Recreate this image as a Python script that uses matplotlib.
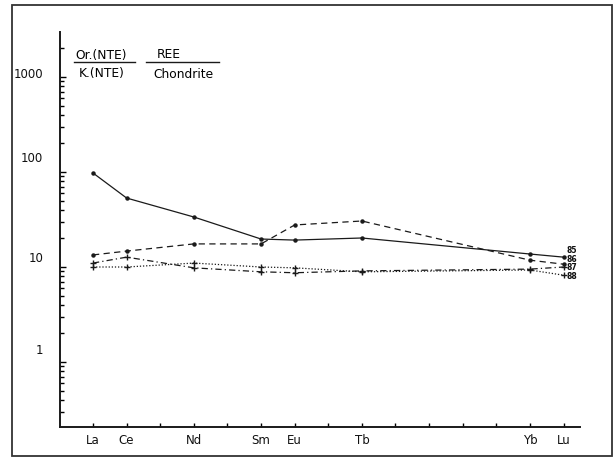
import matplotlib
matplotlib.use("Agg")
import matplotlib.pyplot as plt
import matplotlib.transforms as mtransforms
from matplotlib.patches import Rectangle
from matplotlib.ticker import LogLocator, NullFormatter, FixedLocator, FixedFormatter

FONT = ['Liberation Sans Narrow', 'DejaVu Sans']

# REE positions (full lanthanide series), labels only where analysed
elements = ['La', 'Ce', 'Pr', 'Nd', 'Pm', 'Sm', 'Eu', 'Gd', 'Tb', 'Dy', 'Ho', 'Er', 'Tm', 'Yb', 'Lu']
tick_labels = ['La', 'Ce', '', 'Nd', '', 'Sm', 'Eu', '', 'Tb', '', '', '', '', 'Yb', 'Lu']
analysed = ['La', 'Ce', 'Nd', 'Sm', 'Eu', 'Tb', 'Yb', 'Lu']

s85 = [97.6, 53.2, 33.6, 19.7, 19.2, 20.2, 13.7, 12.7]
s86 = [13.4, 14.7, 17.5, 17.5, 27.7, 30.5, 11.8, 10.7]
s87 = [11.0, 12.7, 9.8, 8.9, 8.7, 9.1, 9.5, 10.0]
s88 = [10.0, 10.0, 11.0, 10.0, 9.8, 8.9, 9.3, 8.2]
series_names = ['85', '86', '87', '88']

yticks = [1, 10, 100, 1000]
ytick_labels = ['1', '10', '100', '1000']

fig = plt.figure(figsize=(6.16, 4.61), dpi=100)
ax = fig.add_axes([60/616, 1-427/461, 520/616, 395/461])

xs = [elements.index(e) for e in analysed]
styles = [
    dict(linestyle='-', marker='o', markersize=2.2),
    dict(linestyle=(0, (5, 3.5)), marker='o', markersize=2.2),
    dict(linestyle=(0, (5, 2.5, 1, 2.5)), marker='+', markersize=4),
    dict(linestyle=(0, (1, 1.5)), marker='+', markersize=4),
]
offsets = [(3, 7), (3, 5.2), (3, -1), (3, -1.8)]
for vals, name, st, off in zip([s85, s86, s87, s88], series_names, styles, offsets):
    ax.plot(xs, vals, color='#1a1a1a', linewidth=0.9, **st)
    ax.annotate(name, (xs[-1], vals[-1]), xytext=off, textcoords='offset pixels',
                ha='left', va='center', fontsize=5.5, fontweight='bold',
                family=FONT, color='#111111')

ax.set_yscale('log')
ax.set_xlim(-0.982, 14.49)
ax.set_ylim(10**(-65/95), 10**(330/95))

ax.xaxis.set_major_locator(FixedLocator(list(range(len(elements)))))
ax.xaxis.set_major_formatter(FixedFormatter(tick_labels))
ax.yaxis.set_major_locator(FixedLocator(yticks))
ax.yaxis.set_major_formatter(FixedFormatter(ytick_labels))
ax.yaxis.set_minor_locator(LogLocator(base=10, subs=range(2, 10)))
ax.yaxis.set_minor_formatter(NullFormatter())

ax.tick_params(axis='x', direction='in', length=3, width=1, pad=5, labelsize=8.5)
ax.tick_params(axis='y', which='major', direction='in', length=4, width=1, pad=12, labelsize=8.5)
ax.tick_params(axis='y', which='minor', direction='in', length=3, width=1)
for lab in ax.get_xticklabels() + ax.get_yticklabels():
    lab.set_family(FONT)
    lab.set_color('#111111')
# tick labels in the original sit above their tick marks by varying amounts (px)
label_lift_px = [13, 10, 15, 4]
for lab, lift in zip(ax.get_yticklabels(), label_lift_px):
    shift = mtransforms.ScaledTranslation(0, lift / 100, fig.dpi_scale_trans)
    lab.set_transform(lab.get_transform() + shift)

for s in ['top', 'right']:
    ax.spines[s].set_visible(False)
for s in ['left', 'bottom']:
    ax.spines[s].set_linewidth(1.4)
    ax.spines[s].set_color('#1a1a1a')

# header: fraction-like titles
def fx(px):
    return px / 616
def fy(py):
    return 1 - py / 461

fig.text(fx(101), fy(55), 'Or.(NTE)', ha='center', va='center', fontsize=8.8, family=FONT)
fig.text(fx(102), fy(74), 'K.(NTE)', ha='center', va='center', fontsize=8.8, family=FONT)
fig.text(fx(169), fy(55), 'REE', ha='center', va='center', fontsize=8.8, family=FONT)
fig.text(fx(183), fy(74), 'Chondrite', ha='center', va='center', fontsize=8.8, family=FONT)
fig.add_artist(plt.Line2D([fx(74), fx(135)], [fy(62), fy(62)], color='#1a1a1a', linewidth=1))
fig.add_artist(plt.Line2D([fx(146), fx(219)], [fy(62), fy(62)], color='#1a1a1a', linewidth=1))

# outer frame of the scanned figure
fig.add_artist(Rectangle((fx(12), fy(456)), fx(612) - fx(12), fy(5) - fy(456),
                         fill=False, edgecolor='#333333', linewidth=1.3,
                         transform=fig.transFigure))

fig.savefig('out.png', dpi=100)
